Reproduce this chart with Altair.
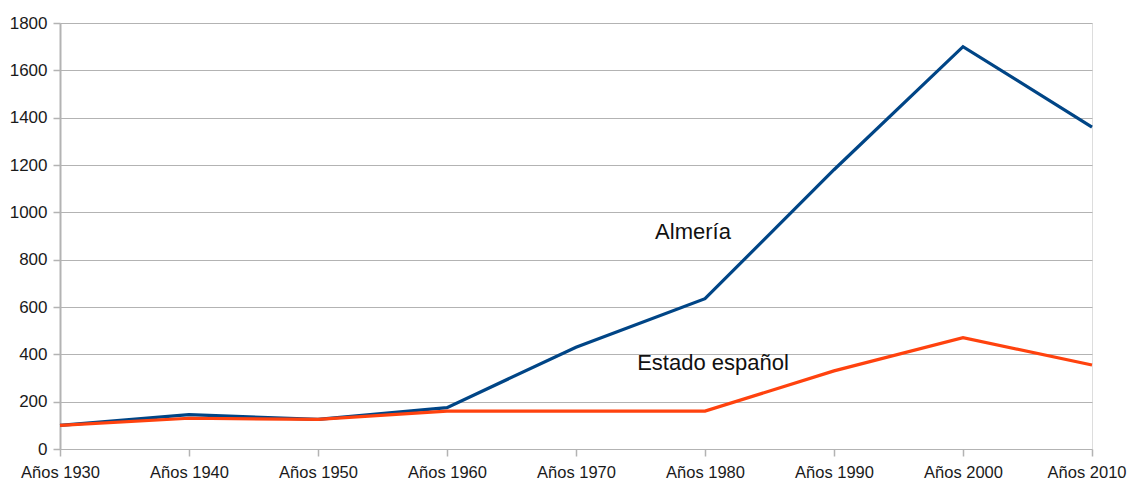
import altair as alt
import pandas as pd

decades = ["Años 1930", "Años 1940", "Años 1950", "Años 1960", "Años 1970",
           "Años 1980", "Años 1990", "Años 2000", "Años 2010"]
almeria = [100, 145, 125, 175, 430, 635, 1180, 1700, 1360]
espana = [100, 130, 125, 160, 160, 160, 330, 470, 355]
series_names = ["Almería", "Estado español"]
series_colors = ["#004586", "#ff420e"]

rows = []
for d, a, e in zip(decades, almeria, espana):
    rows.append({"decada": d, "serie": "Almería", "valor": a})
    rows.append({"decada": d, "serie": "Estado español", "valor": e})
df = pd.DataFrame(rows)

ann_text = ["Almería", "Estado español"]
ann_x = ["Años 1980", "Años 1980"]
ann_y = [917, 363]
ann = pd.DataFrame({"t": ann_text, "x": ann_x, "y": ann_y})

FONT = "Liberation Sans"
GRID = "#b3b3b3"

x = alt.X("decada:N", sort=decades, title=None,
          scale=alt.Scale(type="point", padding=0),
          axis=alt.Axis(labelAngle=0, labelFontSize=16.5, labelFont=FONT, labelColor="#1a1a1a",
                        tickColor=GRID, tickSize=7, tickWidth=1.5, domain=False, grid=False,
                        labelPadding=8,
                        labelAlign=alt.condition("datum.index == 1", alt.value("right"), alt.value("center")),
                        labelOffset=alt.condition("datum.index == 1", alt.value(34), alt.value(0))))
y = alt.Y("valor:Q", title=None,
          scale=alt.Scale(domain=[0, 1800], nice=False),
          axis=alt.Axis(values=list(range(0, 1801, 200)), format="d", labelFontSize=17,
                        labelFont=FONT, labelColor="#1a1a1a", tickColor=GRID, tickSize=7,
                        tickWidth=1.5, domainColor=GRID, domainWidth=2, gridColor=GRID,
                        gridWidth=1.2, labelPadding=6))

lines = alt.Chart(df).mark_line(strokeWidth=3.2).encode(
    x=x, y=y,
    color=alt.Color("serie:N", scale=alt.Scale(domain=series_names, range=series_colors), legend=None),
)

text_almeria = alt.Chart(ann[ann.t == "Almería"]).mark_text(
    font=FONT, fontSize=22, color="#111", dx=-12, align="center", baseline="middle"
).encode(x=alt.X("x:N", sort=decades), y=alt.Y("y:Q"), text="t:N")
text_espana = alt.Chart(ann[ann.t == "Estado español"]).mark_text(
    font=FONT, fontSize=22, color="#111", dx=8, align="center", baseline="middle"
).encode(x=alt.X("x:N", sort=decades), y=alt.Y("y:Q"), text="t:N")

chart = alt.layer(lines, text_almeria, text_espana).properties(
    width=1032, height=426,
    autosize=alt.AutoSizeParams(type="none"),
    padding={"left": 52, "top": 15, "right": 35, "bottom": 32},
).configure_view(stroke=GRID, strokeWidth=1.5).configure(background="white")

chart.save("out.html", embed_options={"renderer": "svg", "actions": False})
